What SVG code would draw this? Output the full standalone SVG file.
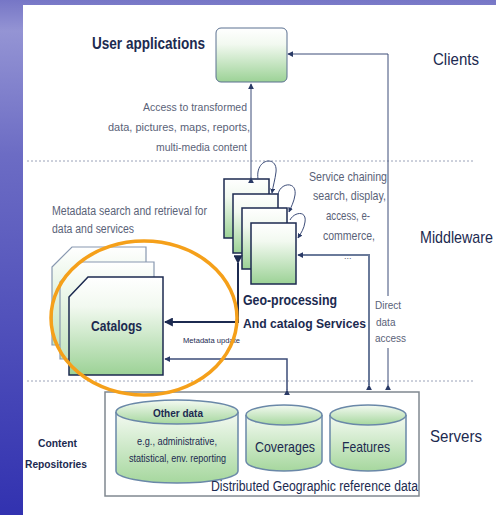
<svg xmlns="http://www.w3.org/2000/svg" width="496" height="515" viewBox="0 0 496 515">
<defs>
<linearGradient id="bg" x1="0" y1="0" x2="0" y2="1">
<stop offset="0" stop-color="#7676c6"/>
<stop offset="0.06" stop-color="#9494d4"/>
<stop offset="0.3" stop-color="#6c6cc4"/>
<stop offset="1" stop-color="#3232b0"/>
</linearGradient>
<linearGradient id="grn" x1="0" y1="0" x2="0" y2="1">
<stop offset="0" stop-color="#ffffff"/>
<stop offset="0.3" stop-color="#f2f9f0"/>
<stop offset="1" stop-color="#9cd296"/>
</linearGradient>
<linearGradient id="grnPale" x1="0" y1="0" x2="0" y2="1">
<stop offset="0" stop-color="#ffffff"/>
<stop offset="1" stop-color="#c4e4bf"/>
</linearGradient>
<linearGradient id="cyl" x1="0" y1="0" x2="0" y2="1">
<stop offset="0" stop-color="#f4faf2"/>
<stop offset="1" stop-color="#a6d79e"/>
</linearGradient>
<marker id="ah" viewBox="0 0 8 8" refX="7" refY="4" markerWidth="6" markerHeight="6" markerUnits="userSpaceOnUse" orient="auto">
<path d="M0,0 L8,4 L0,8 Z" fill="#2a3a66"/>
</marker>
<marker id="ahB" viewBox="0 0 8 8" refX="7" refY="4" markerWidth="9" markerHeight="9" markerUnits="userSpaceOnUse" orient="auto">
<path d="M0,0 L8,4 L0,8 Z" fill="#1c2a50"/>
</marker>
<marker id="ahS" viewBox="0 0 8 8" refX="7" refY="4" markerWidth="5" markerHeight="5" markerUnits="userSpaceOnUse" orient="auto">
<path d="M0,0 L8,4 L0,8 Z" fill="#2a3a66"/>
</marker>
</defs>
<style>
.t{font-family:"Liberation Sans",Arial,sans-serif;fill:#1c2a50}
.g{font-family:"Liberation Sans",Arial,sans-serif;fill:#5a6278}
.b{font-weight:bold}
.dash{stroke:#9aa2b8;stroke-width:1;stroke-dasharray:2,2;fill:none}
.box{fill:url(#grn);stroke:#1c2a50;stroke-width:1.5}
.con{fill:none;stroke:#3c4c78;stroke-width:1}
.cyl{fill:url(#cyl);stroke:#6a88a8;stroke-width:1.5}
</style>
<rect x="0" y="0" width="496" height="515" fill="url(#bg)"/>
<rect x="23" y="5" width="473" height="510" fill="#ffffff"/>
<line class="dash" x1="27" y1="161" x2="475" y2="161"/>
<line class="dash" x1="27" y1="381" x2="475" y2="381"/>

<g id="user-applications">
<rect x="216" y="28" width="71" height="54" rx="5" fill="url(#grn)" stroke="#5a7090" stroke-width="1"/>
<text class="t b" x="92" y="49" font-size="16" textLength="113" lengthAdjust="spacingAndGlyphs">User applications</text>
</g>

<g id="geo-services">
<rect class="box" x="224" y="179" width="45" height="59" stroke="#3a4a70"/>
<rect class="box" x="233" y="194" width="45" height="59"/>
<rect class="box" x="242" y="208" width="45" height="61"/>
<rect class="box" x="251" y="223" width="45" height="61"/>
<text class="t b" x="243" y="305" font-size="14" textLength="94" lengthAdjust="spacingAndGlyphs">Geo-processing</text>
<text class="t b" x="243" y="328" font-size="13" textLength="123" lengthAdjust="spacingAndGlyphs">And catalog Services</text>
</g>

<g id="catalogs">
<path d="M52,267 L72,247 L146,247 L146,345 L52,345 Z" fill="url(#grnPale)" stroke="#8898b0" stroke-width="1.2"/>
<path d="M60,282 L80,262 L154,262 L154,359 L60,359 Z" fill="url(#grnPale)" stroke="#8898b0" stroke-width="1.2"/>
<path d="M69,297 L88,277 L163,277 L163,375 L69,375 Z" fill="url(#grn)" stroke="#1c2a50" stroke-width="1.5"/>
<text class="t b" x="91" y="331" font-size="14" textLength="51" lengthAdjust="spacingAndGlyphs">Catalogs</text>
</g>

<g id="servers">
<rect x="105" y="392" width="314" height="104" fill="#ffffff" stroke="#808890" stroke-width="1.5"/>
<g id="other-data">
<path class="cyl" d="M116,412 L116,471 A61,12 0 0 0 238,471 L238,412"/>
<ellipse class="cyl" cx="177" cy="412" rx="61" ry="12" fill="#f6fbf4"/>
<text class="t b" x="153" y="417" font-size="11" textLength="50" lengthAdjust="spacingAndGlyphs">Other data</text>
<text class="t" x="137" y="445" font-size="10.5" textLength="80" lengthAdjust="spacingAndGlyphs" fill="#3a4560">e.g., administrative,</text>
<text class="t" x="129" y="462" font-size="10.5" textLength="97" lengthAdjust="spacingAndGlyphs" fill="#3a4560">statistical, env. reporting</text>
</g>
<g id="coverages">
<path class="cyl" d="M246,415 L246,461 A38,10 0 0 0 322,461 L322,415"/>
<ellipse class="cyl" cx="284" cy="415" rx="38" ry="10" fill="#f6fbf4"/>
<text class="t" x="255" y="452" font-size="15" textLength="60" lengthAdjust="spacingAndGlyphs">Coverages</text>
</g>
<g id="features">
<path class="cyl" d="M330,415 L330,461 A38,10 0 0 0 406,461 L406,415"/>
<ellipse class="cyl" cx="368" cy="415" rx="38" ry="10" fill="#f6fbf4"/>
<text class="t" x="342" y="452" font-size="15" textLength="48" lengthAdjust="spacingAndGlyphs">Features</text>
</g>
<text class="t" x="211" y="491" font-size="14" textLength="207" lengthAdjust="spacingAndGlyphs">Distributed Geographic reference data</text>
</g>

<g id="connectors">
<line class="con" x1="251" y1="178" x2="251" y2="84" marker-end="url(#ah)" marker-start="url(#ah)"/>
<path class="con" d="M388,385 L388,54 L288,54" marker-end="url(#ah)" marker-start="url(#ah)"/>
<path d="M369,385 L369,255 L298,255" fill="none" stroke="#6a7a9a" stroke-width="2" marker-end="url(#ah)" marker-start="url(#ah)"/>
<path d="M238,263 L238,322 L165,322" fill="none" stroke="#1c2a50" stroke-width="2" marker-end="url(#ahB)" marker-start="url(#ahB)"/>
<path d="M287,390 L287,359 L165,359" fill="none" stroke="#3c4c78" stroke-width="1.5" marker-end="url(#ah)" marker-start="url(#ah)"/>
<path class="con" d="M258,179 C255,158 278,155 276,172 C275,180 273,186 272,193" marker-end="url(#ahS)"/>
<path class="con" d="M278,195 C279,183 297,180 295,195 C294,202 291,207 289,212" marker-end="url(#ahS)"/>
<path class="con" d="M290,220 C294,212 307,210 305,222 C304,229 301,233 298,238" marker-end="url(#ahS)"/>
</g>

<g id="labels">
<text class="t" x="433" y="65" font-size="17" textLength="46" lengthAdjust="spacingAndGlyphs">Clients</text>
<text class="t" transform="translate(420,243) scale(1,1.2)" font-size="14" textLength="73" lengthAdjust="spacingAndGlyphs">Middleware</text>
<text class="t" x="430" y="442" font-size="17" textLength="52" lengthAdjust="spacingAndGlyphs">Servers</text>
<text class="t b" x="38" y="447" font-size="11" textLength="39" lengthAdjust="spacingAndGlyphs">Content</text>
<text class="t b" x="25" y="468" font-size="11" textLength="62" lengthAdjust="spacingAndGlyphs">Repositories</text>
<text class="g" x="143" y="111" font-size="11" textLength="104" lengthAdjust="spacingAndGlyphs">Access to transformed</text>
<text class="g" x="108" y="131" font-size="11" textLength="142" lengthAdjust="spacingAndGlyphs">data, pictures, maps, reports,</text>
<text class="g" x="156" y="151" font-size="11" textLength="91" lengthAdjust="spacingAndGlyphs">multi-media content</text>
<text class="g" x="309" y="181" font-size="13" textLength="78" lengthAdjust="spacingAndGlyphs">Service chaining</text>
<text class="g" x="313" y="200" font-size="13" textLength="73" lengthAdjust="spacingAndGlyphs">search, display,</text>
<text class="g" x="326" y="220" font-size="13" textLength="44" lengthAdjust="spacingAndGlyphs">access, e-</text>
<text class="g" x="323" y="240" font-size="13" textLength="52" lengthAdjust="spacingAndGlyphs">commerce,</text>
<text class="g" x="344" y="259" font-size="9">...</text>
<rect x="373" y="296" width="30" height="52" fill="#ffffff"/>
<text class="g" x="375" y="309" font-size="10">Direct</text>
<text class="g" x="376" y="326" font-size="10">data</text>
<text class="g" x="375" y="342" font-size="10">access</text>
<text class="g" x="52" y="215" font-size="12" textLength="155" lengthAdjust="spacingAndGlyphs">Metadata search and retrieval for</text>
<text class="g" x="52" y="233" font-size="12" textLength="82" lengthAdjust="spacingAndGlyphs">data and services</text>
<text class="t" x="183" y="343" font-size="8" textLength="57" lengthAdjust="spacingAndGlyphs">Metadata update</text>
</g>

<g id="highlight">
<ellipse cx="144" cy="318" rx="93" ry="77" fill="none" stroke="#f5a01a" stroke-width="3.5"/>
</g>
</svg>
